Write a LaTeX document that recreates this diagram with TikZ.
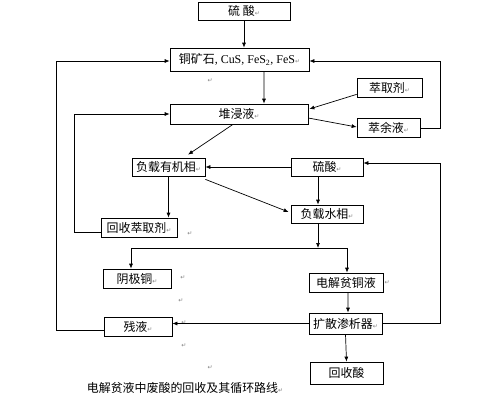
\documentclass[tikz,border=0pt]{standalone}
\usepackage{fontspec}
\setmainfont{Liberation Serif}
\newfontfamily\cjk{Noto Sans CJK SC}
\newfontfamily\dvsans{DejaVu Sans}
\usetikzlibrary{arrows.meta,calc}
\newcommand\retmark{{\dvsans\fontsize{6}{6}\selectfont\color{gray}↵}}
\tikzset{
  box/.style={draw, line width=0.7bp, inner sep=0pt, font=\cjk\fontsize{12}{14}\selectfont},
  arr/.style={-{Latex[length=5bp,width=4bp]}, line width=0.7bp},
  retnode/.style={inner sep=0pt},
}
\begin{document}
\begin{tikzpicture}[x=1bp,y=-1bp]
\fill[white] (0,0) rectangle (500,400);
\useasboundingbox (0,0) rectangle (500,400);
% 方框
\node[box, minimum width=92bp, minimum height=18bp] (acidA) at (244,11) {硫\ 酸\retmark};
\node[box, minimum width=139bp, minimum height=23bp] (ore) at (239.5,59.5) {铜矿石{\rmfamily, CuS, FeS\textsubscript{2}, FeS}\retmark};
\node[box, minimum width=65bp, minimum height=19bp] (ext) at (389.5,87.5) {萃取剂\retmark};
\node[box, minimum width=138bp, minimum height=20bp] (leach) at (239,114) {堆浸液\retmark};
\node[box, minimum width=63bp, minimum height=19bp] (raff) at (388.5,128) {萃余液\retmark};
\node[box, minimum width=73bp, minimum height=18bp] (org) at (168.5,167) {负载有机相\retmark};
\node[box, minimum width=72bp, minimum height=18bp] (acidB) at (327,167) {硫酸\retmark};
\node[box, minimum width=72bp, minimum height=18bp] (aq) at (327,214) {负载水相\retmark};
\node[box, minimum width=76bp, minimum height=19bp] (recext) at (139,227.5) {回收萃取剂\retmark};
\node[box, minimum width=68bp, minimum height=19bp] (cath) at (137,278.5) {阴极铜\retmark};
\node[box, minimum width=74bp, minimum height=19bp] (lean) at (346,282.5) {电解贫铜液};
\node[box, minimum width=68bp, minimum height=19bp] (res) at (138,326.5) {残液\retmark};
\node[box, minimum width=73bp, minimum height=21bp] (dial) at (345.5,323.5) {扩散渗析器\retmark};
\node[box, minimum width=73bp, minimum height=22bp] (racid) at (346.5,373) {回收酸};

% 标题
\node[font=\cjk\fontsize{12}{14}\selectfont, inner sep=0pt] (title) at (185,388) {电解贫液中废酸的回收及其循环路线\retmark};

% 段落标记
\node[retnode] (m1) at (210,81) {\retmark};
\node[retnode] (m2) at (190,234) {\retmark};
\node[retnode] (m3) at (183,278) {\retmark};
\node[retnode] (m4) at (181,301) {\retmark};
\node[retnode] (m5) at (184,323) {\retmark};
\node[retnode] (m6) at (184,346) {\retmark};
\node[retnode] (m7) at (210,368) {\retmark};
\node[retnode] (m8) at (387,283) {\retmark};

\coordinate (split) at (318,248);

% 箭头
\draw[arr] (acidA.south) -- (acidA.south |- ore.north);
\draw[arr] ($(ore.south)+(24.5,0)$) -- ($(leach.north)+(25,0)$);
\draw[arr] ($(ext.south west)+(0,-3)$) -- ($(leach.east)+(1,-5)$);
\draw[arr] ($(leach.east)+(0,4)$) -- ($(raff.west)+(0,-1)$);
\draw[arr] (raff.east) -- ++(20,0) |- ($(ore.east)+(0,1.5)$);
\draw[arr] ($(res.west)+(0,3.5)$) -- ++(-47,0) |- ($(ore.west)+(0,1.5)$);
\draw[arr] ($(recext.west)+(0,4.5)$) -- ++(-26,0) |- (leach.west);
\draw[arr] ($(leach.south)+(-6,0)$) -- ($(org.north)+(19.5,-3)$);
\draw[arr] (acidB.west) -- (org.east);
\draw[arr] ($(org.south east)+(0,3)$) -- ($(aq.west)+(-2,-2)$);
\draw[arr] (org.south) -- (org.south |- recext.north);
\draw[arr] ($(acidB.south)+(-9,0)$) -- ($(aq.north)+(-9,0)$);
\draw[arr] ($(aq.south)+(-9,0)$) -- (split);
\draw[arr] (split) -| ($(cath.north)+(-6,0)$);
\draw[arr] (split) -| ($(lean.north)+(1,0)$);
\draw[arr] ($(lean.south)+(2,0)$) -- ($(dial.north)+(2.5,0)$);
\draw[arr] (dial.west) -- (dial.west -| res.east);
\draw[arr] (dial.east) -- ++(58,0) |- ($(acidB.east)+(0,-4)$);
\draw[arr] (dial.south) -- (racid.north);
\end{tikzpicture}
\end{document}
